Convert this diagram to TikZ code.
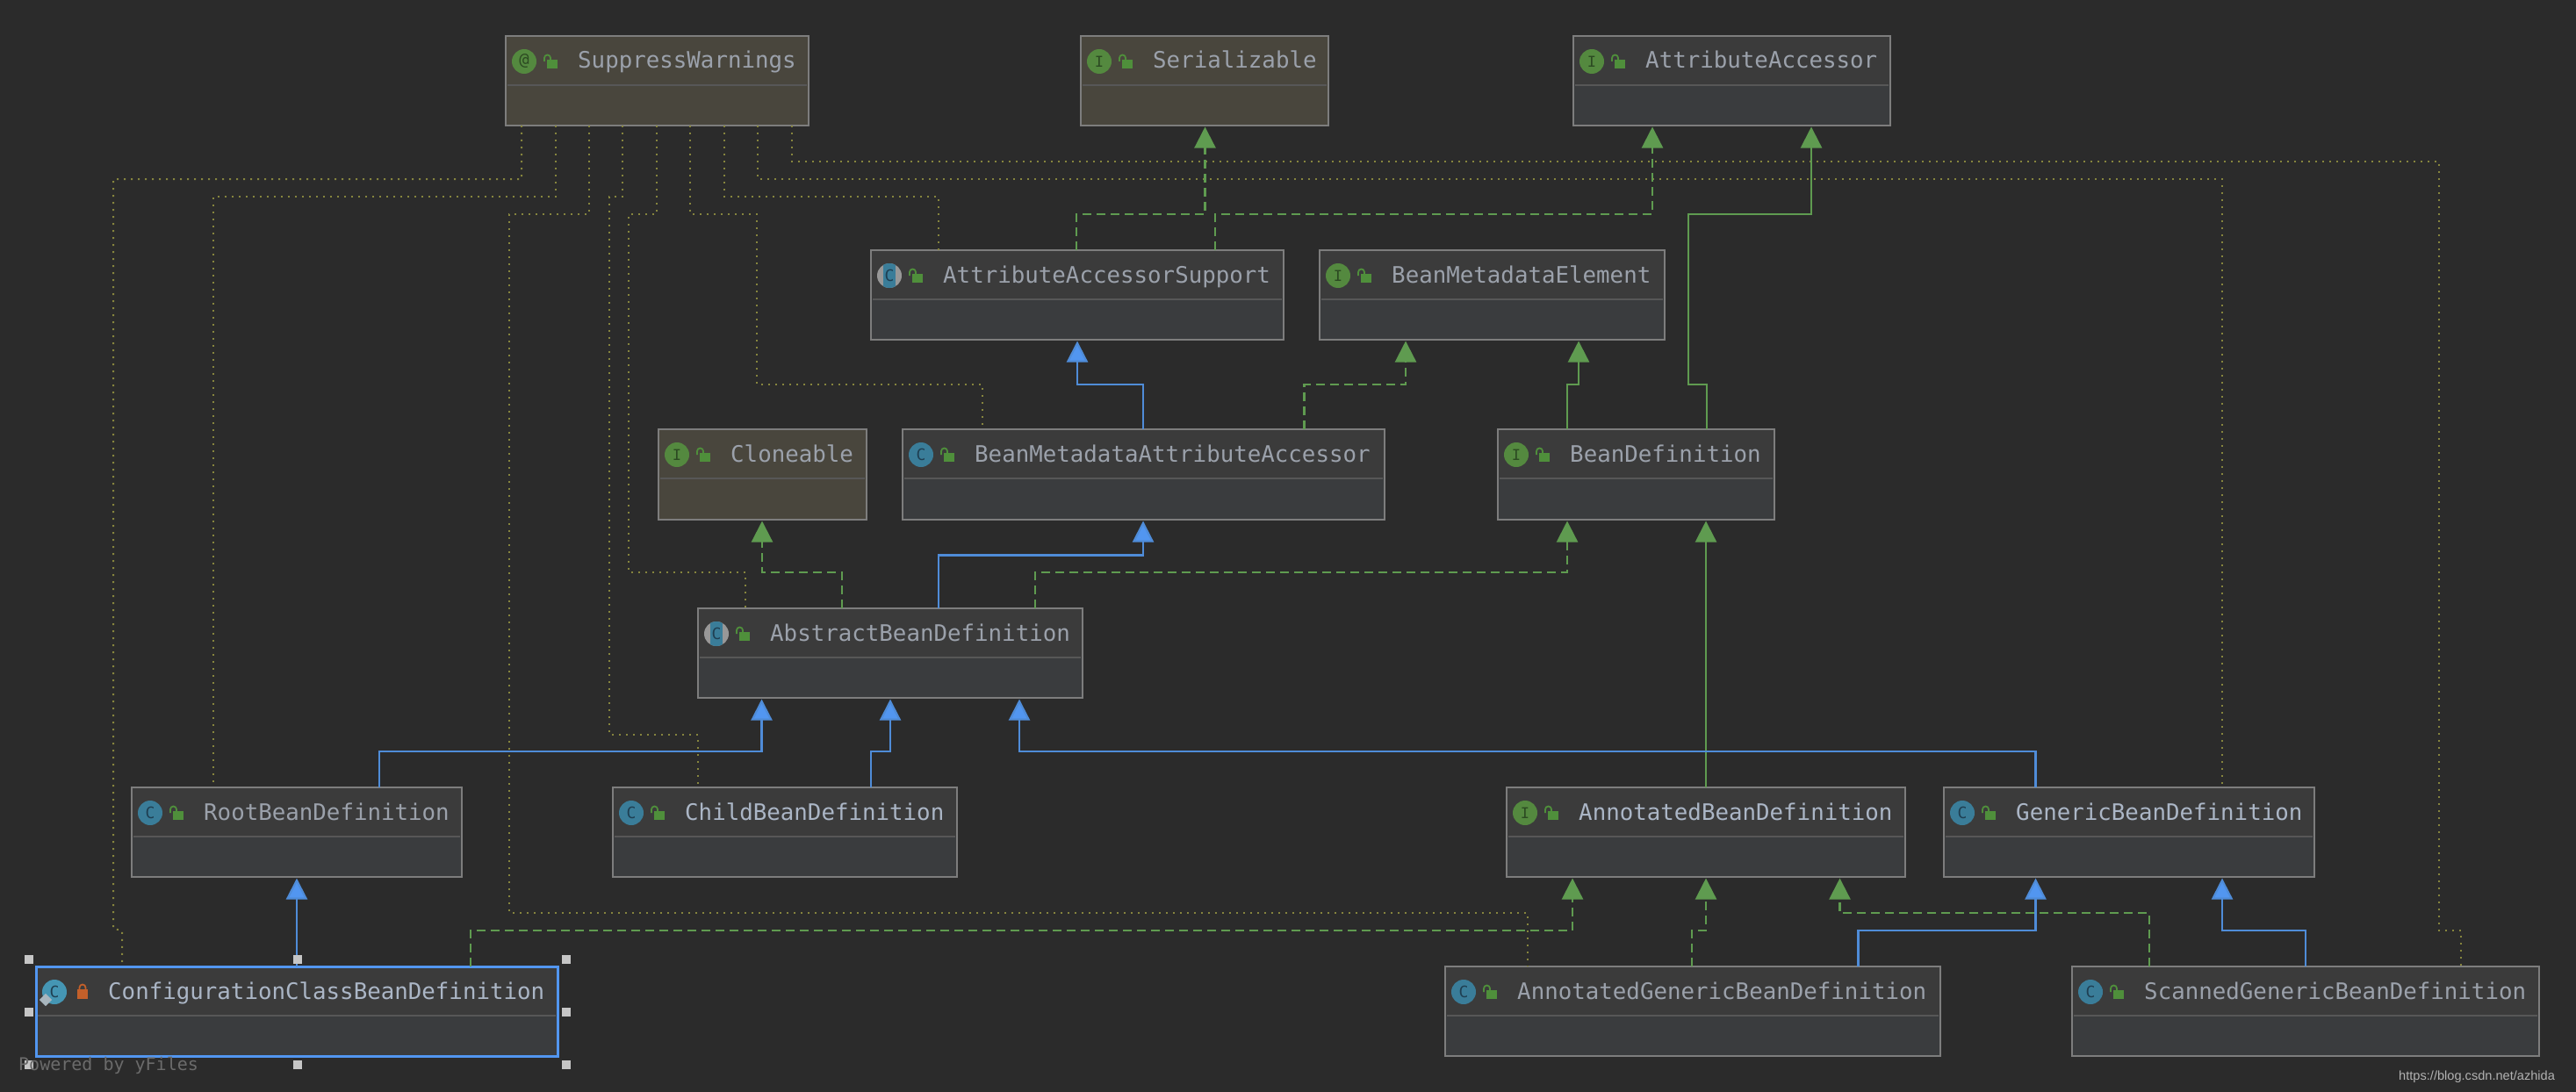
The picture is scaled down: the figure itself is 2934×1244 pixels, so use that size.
\documentclass[tikz,border=0pt]{standalone}
\usepackage{fontspec}
\usetikzlibrary{arrows.meta,calc}
\newfontfamily\monof{DejaVu Sans Mono}
\newfontfamily\sansf{Liberation Sans}
\definecolor{bgc}{HTML}{2B2B2B}
\definecolor{headg}{HTML}{3B3B3B}
\definecolor{bodyg}{HTML}{3A3C3E}
\definecolor{tan}{HTML}{49463D}
\definecolor{edgec}{HTML}{7D7D7D}
\definecolor{divc}{HTML}{575757}
\definecolor{txtdim}{HTML}{9BA1AB}
\definecolor{txtlit}{HTML}{ABB6C6}
\definecolor{igreen}{HTML}{54893F}
\definecolor{idark}{HTML}{2C4A22}
\definecolor{cblue}{HTML}{3A7D99}
\definecolor{cbright}{HTML}{4596B4}
\definecolor{cdark}{HTML}{1F3F52}
\definecolor{absgray}{HTML}{989898}
\definecolor{lockg}{HTML}{4F8F3B}
\definecolor{locko}{HTML}{C4602A}
\definecolor{blue1}{HTML}{5296F0}
\definecolor{blueline}{HTML}{4F8CD8}
\definecolor{green1}{HTML}{5F9B50}
\definecolor{dotc}{HTML}{86853E}
\definecolor{handlec}{HTML}{C6C6C6}
\definecolor{diamc}{HTML}{A9B6BE}
\newcommand{\umlbox}[8]{%
  \pgfmathsetmacro{\ww}{#4-#2}\pgfmathsetmacro{\hh}{#5-#3}
  \fill[#6] (#2,#3) rectangle (#4,#3+56);
  \fill[#7] (#2,#3+56) rectangle (#4,#5);
  \node[umlnode,minimum width=\ww pt,minimum height=\hh pt] (#1) at ({(#2+#4)/2},{(#3+#5)/2}) {};
  \draw[divc,line width=2pt] (#2+2,#3+56) -- (#4-2,#3+56);
  \node[umltext,text=#8] (#1-t) at (#2+82,#3+37) {\umltxt};
}
\newcommand{\lockopen}[2]{%
  \fill[lockg] (#1+47,#2+27) rectangle (#1+59,#2+37);
  \draw[lockg,line width=1.8pt] (#1+44,#2+29) -- (#1+44,#2+25) arc[start angle=180,end angle=360,radius=3.5] -- (#1+51,#2+28);
}
\newcommand{\iconI}[3]{%
  \node[iconc,fill=igreen] (#1-i) at (#2+21,#3+29) {\fontsize{17}{17}\monof\color{idark}I};
  \lockopen{#2}{#3}
}
\newcommand{\iconA}[3]{%
  \node[iconc,fill=igreen] (#1-i) at (#2+21,#3+29) {\fontsize{19}{19}\monof\color{idark}@};
  \lockopen{#2}{#3}
}
\newcommand{\iconC}[3]{%
  \node[iconc,fill=cblue] (#1-i) at (#2+21,#3+29) {\fontsize{18}{18}\monof\color{cdark}C};
  \lockopen{#2}{#3}
}
\newcommand{\iconAbs}[3]{%
  \node[iconc,fill=absgray] (#1-i) at (#2+21,#3+29) {};
  \begin{scope}
    \clip (#2+21,#3+29) circle[radius=14];
    \fill[cblue] (#2+14,#3+14) rectangle (#2+28,#3+44);
  \end{scope}
  \node[text=cdark,inner sep=0pt] (#1-l) at (#2+21,#3+29) {\fontsize{18}{18}\monof C};
  \lockopen{#2}{#3}
}
\tikzset{
  umlnode/.style={draw=edgec,line width=2.4pt,inner sep=0pt,outer sep=0pt,rectangle},
  umltext/.style={anchor=base west,inner sep=0pt,font=\fontsize{25.8}{30}\monof},
  iconc/.style={circle,minimum size=28pt,inner sep=0pt,outer sep=0pt},
  handle/.style={rectangle,fill=handlec,minimum size=10pt,inner sep=0pt,outer sep=0pt},
  conn/.style={line width=2.2pt,shorten >=1.5pt},
  tipb/.style={-{Triangle[width=24pt,length=24pt,fill=blue1]},draw=blueline,conn},
  tipg/.style={-{Triangle[width=24pt,length=24pt,fill=green1]},draw=green1,conn},
  tipd/.style={tipg,dash pattern=on 10pt off 6pt},
  dotl/.style={draw=dotc,line width=2pt,dash pattern=on 2pt off 6pt},
}
\begin{document}
\begin{tikzpicture}[x=1pt,y=-1pt]
\useasboundingbox (0,0) rectangle (2934,1244);
\fill[bgc] (0,0) rectangle (2934,1244);

% boxes
\def\umltxt{SuppressWarnings}\umlbox{sw}{576}{41}{921}{143}{tan}{tan}{txtdim}\iconA{sw}{576}{41}
\def\umltxt{Serializable}\umlbox{ser}{1231}{41}{1513}{143}{tan}{tan}{txtdim}\iconI{ser}{1231}{41}
\def\umltxt{AttributeAccessor}\umlbox{aa}{1792}{41}{2153}{143}{headg}{bodyg}{txtdim}\iconI{aa}{1792}{41}
\def\umltxt{AttributeAccessorSupport}\umlbox{aas}{992}{285}{1462}{387}{headg}{bodyg}{txtdim}\iconAbs{aas}{992}{285}
\def\umltxt{BeanMetadataElement}\umlbox{bme}{1503}{285}{1896}{387}{headg}{bodyg}{txtdim}\iconI{bme}{1503}{285}
\def\umltxt{Cloneable}\umlbox{cl}{750}{489}{987}{592}{tan}{tan}{txtdim}\iconI{cl}{750}{489}
\def\umltxt{BeanMetadataAttributeAccessor}\umlbox{bmaa}{1028}{489}{1577}{592}{headg}{bodyg}{txtdim}\iconC{bmaa}{1028}{489}
\def\umltxt{BeanDefinition}\umlbox{bd}{1706}{489}{2021}{592}{headg}{bodyg}{txtdim}\iconI{bd}{1706}{489}
\def\umltxt{AbstractBeanDefinition}\umlbox{abd}{795}{693}{1233}{795}{headg}{bodyg}{txtdim}\iconAbs{abd}{795}{693}
\def\umltxt{RootBeanDefinition}\umlbox{root}{150}{897}{526}{999}{headg}{bodyg}{txtdim}\iconC{root}{150}{897}
\def\umltxt{ChildBeanDefinition}\umlbox{child}{698}{897}{1090}{999}{headg}{bodyg}{txtlit}\iconC{child}{698}{897}
\def\umltxt{AnnotatedBeanDefinition}\umlbox{abean}{1716}{897}{2170}{999}{headg}{bodyg}{txtlit}\iconI{abean}{1716}{897}
\def\umltxt{GenericBeanDefinition}\umlbox{gen}{2214}{897}{2636}{999}{headg}{bodyg}{txtlit}\iconC{gen}{2214}{897}
\def\umltxt{AnnotatedGenericBeanDefinition}\umlbox{agen}{1646}{1101}{2210}{1203}{headg}{bodyg}{txtdim}\iconC{agen}{1646}{1101}
\def\umltxt{ScannedGenericBeanDefinition}\umlbox{sgen}{2360}{1101}{2892}{1203}{headg}{bodyg}{txtdim}\iconC{sgen}{2360}{1101}

% selected box
\def\umltxt{ConfigurationClassBeanDefinition}\umlbox{conf}{41}{1101}{635}{1203}{headg}{bodyg}{txtlit}
\draw[blue1,line width=3pt] (conf.south west) rectangle (conf.north east);
\node[iconc,fill=cbright] (conf-i) at (62,1130) {\fontsize{18}{18}\monof\color{cdark}C};
\node[rectangle,rotate=45,fill=diamc,minimum size=10pt,inner sep=0pt] (conf-d) at (52,1139) {};
\fill[locko] (88,1127) rectangle (100,1138);
\draw[locko,line width=1.8pt] (90.5,1127) -- (90.5,1125) arc[start angle=180,end angle=360,radius=3.5] -- (97.5,1127);

% dotted dependencies on SuppressWarnings
\draw[dotl] (sw.south -| 594,0) -- (594,204) -- (129,204) -- (129,1058) -- (139,1060) -- (conf.north -| 139,0);
\draw[dotl] (sw.south -| 633,0) -- (633,224) -- (243,224) -- (root.north -| 243,0);
\draw[dotl] (sw.south -| 671,0) -- (671,244) -- (580,244) -- (580,1040) -- (1740,1040) -- (agen.north -| 1740,0);
\draw[dotl] (sw.south -| 709,0) -- (709,224) -- (694,224) -- (694,837) -- (795,837) -- (child.north -| 795,0);
\draw[dotl] (sw.south -| 748,0) -- (748,244) -- (716,244) -- (716,652) -- (849,652) -- (abd.north -| 849,0);
\draw[dotl] (sw.south -| 786,0) -- (786,244) -- (862,244) -- (862,438) -- (1119,438) -- (bmaa.north -| 1119,0);
\draw[dotl] (sw.south -| 825,0) -- (825,224) -- (1069,224) -- (aas.north -| 1069,0);
\draw[dotl] (sw.south -| 863,0) -- (863,204) -- (2531,204) -- (gen.north -| 2531,0);
\draw[dotl] (sw.south -| 902,0) -- (902,184) -- (2778,184) -- (2778,1060) -- (2803,1060) -- (sgen.north -| 2803,0);

% implements (dashed green)
\draw[tipd] (aas.north -| 1226,0) -- (1226,244) -- (1372.5,244) -- (ser.south -| 1372.5,0);
\draw[tipd] (aas.north -| 1384,0) -- (1384,244) -- (1882,244) -- (aa.south -| 1882,0);
\draw[tipd] (bmaa.north -| 1485.5,0) -- (1485.5,438) -- (1601,438) -- (bme.south -| 1601,0);
\draw[tipd] (abd.north -| 959,0) -- (959,652) -- (868,652) -- (cl.south -| 868,0);
\draw[tipd] (abd.north -| 1179,0) -- (1179,652) -- (1785,652) -- (bd.south -| 1785,0);
\draw[tipd] (conf.north -| 536,0) -- (536,1060) -- (1791,1060) -- (abean.south -| 1791,0);
\draw[tipd] (agen.north -| 1927,0) -- (1927,1060) -- (1943,1060) -- (abean.south -| 1943,0);
\draw[tipd] (sgen.north -| 2448,0) -- (2448,1040) -- (2095.5,1040) -- (abean.south -| 2095.5,0);

% extends (solid green)
\draw[tipg] (bd.north -| 1944,0) -- (1944,438) -- (1923,438) -- (1923,244) -- (2063,244) -- (aa.south -| 2063,0);
\draw[tipg] (bd.north -| 1785,0) -- (1785,438) -- (1798,438) -- (bme.south -| 1798,0);
\draw[tipg] (abean.north -| 1943,0) -- (bd.south -| 1943,0);

% extends (solid blue)
\draw[tipb] (bmaa.north -| 1302,0) -- (1302,438) -- (1227,438) -- (aas.south -| 1227,0);
\draw[tipb] (abd.north -| 1069,0) -- (1069,632.5) -- (1302,632.5) -- (bmaa.south -| 1302,0);
\draw[tipb] (root.north -| 432,0) -- (432,856) -- (867.5,856) -- (abd.south -| 867.5,0);
\draw[tipb] (child.north -| 992,0) -- (992,856) -- (1014,856) -- (abd.south -| 1014,0);
\draw[tipb] (gen.north -| 2318.5,0) -- (2318.5,856) -- (1161,856) -- (abd.south -| 1161,0);
\draw[tipb] (conf.north -| 338,0) -- (root.south -| 338,0);
\draw[tipb] (agen.north -| 2116.5,0) -- (2116.5,1060) -- (2318.5,1060) -- (gen.south -| 2318.5,0);
\draw[tipb] (sgen.north -| 2626,0) -- (2626,1060) -- (2531,1060) -- (gen.south -| 2531,0);

% selection handles
\node[handle] (h1) at (33,1093) {};
\node[handle] (h2) at (339,1093) {};
\node[handle] (h3) at (645,1093) {};
\node[handle] (h4) at (33,1153) {};
\node[handle] (h5) at (645,1153) {};
\node[handle] (h6) at (33,1213) {};
\node[handle] (h7) at (339,1213) {};
\node[handle] (h8) at (645,1213) {};

% captions
\node[anchor=base west,inner sep=0pt,text=white!42!black] (yf) at (21,1219) {\fontsize{20}{24}\monof Powered by yFiles};
\node[anchor=base west,inner sep=0pt,text=white!70!black] (wm) at (2732,1230) {\fontsize{14.6}{18}\sansf https://blog.csdn.net/azhida};
\end{tikzpicture}
\end{document}
